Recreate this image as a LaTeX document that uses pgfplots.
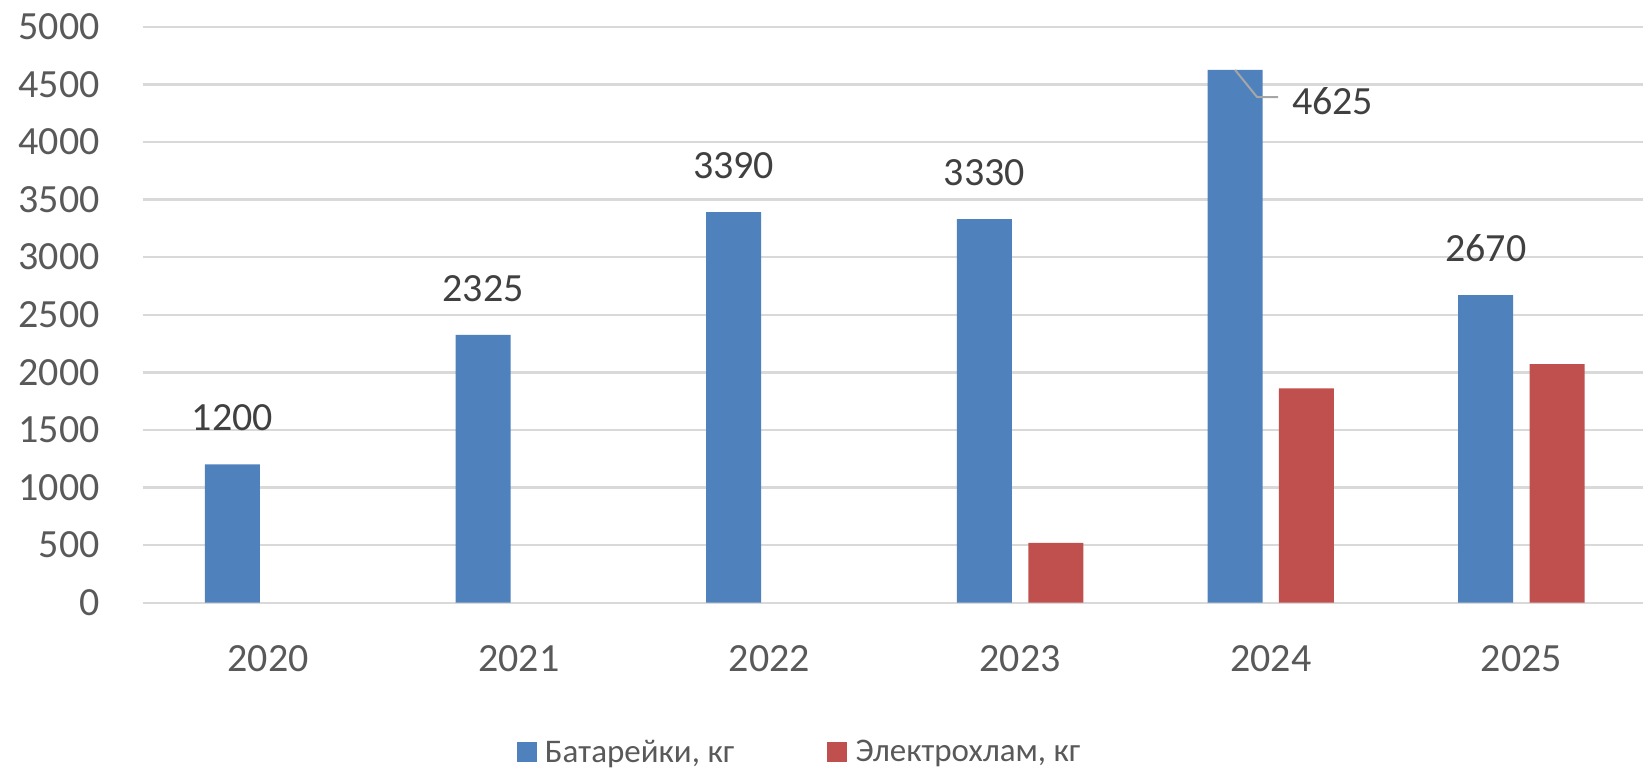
\documentclass[border=0pt]{standalone}
\usepackage{fontspec}
\setmainfont{Carlito}
\usepackage{pgfplots}
\pgfplotsset{compat=1.18}
\definecolor{barblue}{HTML}{4F81BD}
\definecolor{barred}{HTML}{C0504D}
\definecolor{gridgray}{HTML}{D9D9D9}
\definecolor{ticktext}{HTML}{595959}
\definecolor{lbltext}{HTML}{404040}
\definecolor{leadergray}{HTML}{A6A6A6}
\begin{document}
\begin{tikzpicture}
\begin{axis}[
  name=ax,
  scale only axis,
  width=750.15pt, height=288pt,
  xmin=-0.5, xmax=5.485,
  ymin=0, ymax=5000,
  ytick={0,500,1000,1500,2000,2500,3000,3500,4000,4500,5000},
  yticklabels={0,500,1000,1500,2000,2500,3000,3500,4000,4500,5000},
  xtick={0,1,2,3,4,5},
  xticklabels={2020,2021,2022,2023,2024,2025},
  axis lines=left,
  axis line style={draw=none},
  major tick length=0pt,
  ymajorgrids,
  grid style={gridgray, line width=1.2pt},
  tick label style={font=\fontsize{20}{24}\selectfont, text=ticktext},
  xticklabel style={inner sep=0pt, anchor=north, yshift=-21pt},
  yticklabel style={inner sep=0pt, anchor=east, xshift=-21.3pt},
  clip=false,
  legend columns=2,
  legend image code/.code={\fill[#1,/tikz/.cd,draw=none] (0pt,-5pt) rectangle (10pt,5pt);},
  legend style={at={(0.2492,-0.26)}, anchor=west, draw=none, fill=none,
    inner sep=0pt, outer sep=0pt,
    font=\fontsize{16.5}{19.5}\selectfont, text=ticktext,
    nodes={inner sep=0pt},
    /tikz/every odd column/.append style={column sep=4.2pt},
    /tikz/every even column/.append style={column sep=46.5pt}},
]
\addplot[ybar, bar width=27.5pt, bar shift=-17.85pt, fill=barblue, draw=none,
  point meta=explicit symbolic, nodes near coords,
  every node near coord/.append style={anchor=south, inner sep=0pt, xshift=-17.85pt, yshift=16.4pt,
    font=\fontsize{20}{24}\selectfont, text=lbltext}]
  coordinates {(0,1200) [1200] (1,2325) [2325] (2,3390) [3390] (3,3330) [3330] (4,4625) [] (5,2670) [2670]};
\addlegendentry{Батарейки, кг}
\addplot[ybar, bar width=27.5pt, bar shift=17.85pt, fill=barred, draw=none]
  coordinates {(3,520) (4,1860) (5,2070)};
\addlegendentry{Электрохлам, кг}
\addplot[ybar, bar width=27.5pt, bar shift=-17.85pt, draw=none, fill=none, forget plot,
  point meta=explicit symbolic, nodes near coords,
  every node near coord/.append style={anchor=west, inner sep=0pt, xshift=10.45pt, yshift=-15.5pt,
    font=\fontsize{20}{24}\selectfont, text=lbltext, name=lbltwo}]
  coordinates {(4,4625) [4625]};
\end{axis}
\draw[leadergray, line width=1pt] ([shift={(-6.75pt,1.85pt)}]lbltwo.west) -- ([shift={(-17.25pt,1.85pt)}]lbltwo.west) -- ([shift={(-28.3pt,15.5pt)}]lbltwo.west);
\pgfresetboundingbox
\path[use as bounding box] (ax.south west) ++(-71.35pt,-84.15pt) rectangle ++(821.5pt,385.5pt);
\end{tikzpicture}
\end{document}
